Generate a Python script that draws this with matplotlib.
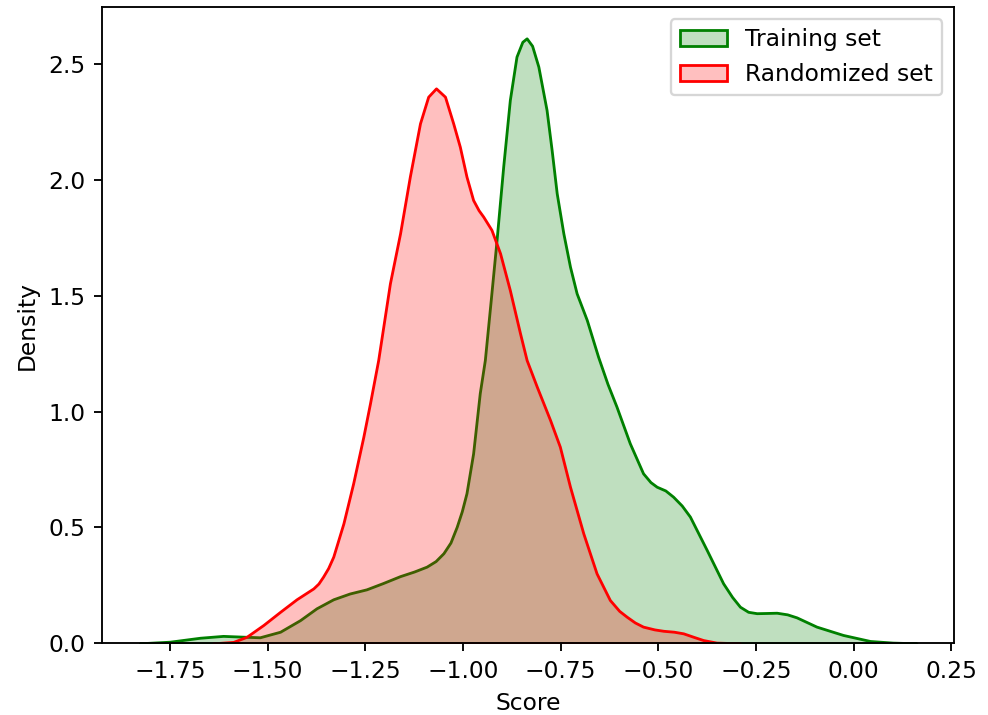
import numpy as np
import matplotlib
matplotlib.use('Agg')
import matplotlib.pyplot as plt
from matplotlib.patches import Patch

# densidad (score, densidad)
train_x = [-1.827, -1.75, -1.673, -1.614, -1.554, -1.52, -1.468, -1.417, -1.375, -1.332,
           -1.29, -1.247, -1.205, -1.161, -1.125, -1.093, -1.07, -1.05, -1.032, -1.016,
           -1.003, -0.991, -0.974, -0.957, -0.944, -0.929, -0.914, -0.897, -0.880, -0.863,
           -0.848, -0.837, -0.823, -0.807, -0.786, -0.773, -0.760, -0.743, -0.726, -0.709,
           -0.683, -0.654, -0.63, -0.607, -0.573, -0.539, -0.52, -0.504, -0.482, -0.462,
           -0.44, -0.419, -0.376, -0.334, -0.311, -0.291, -0.27, -0.248, -0.22, -0.197,
           -0.17, -0.146, -0.095, -0.027, 0.042, 0.10, 0.161]
train_y = [0.0, 0.007, 0.024, 0.032, 0.028, 0.026, 0.05, 0.10, 0.151, 0.19,
           0.215, 0.233, 0.26, 0.29, 0.31, 0.331, 0.355, 0.389, 0.435, 0.503,
           0.57, 0.648, 0.82, 1.08, 1.223, 1.48, 1.741, 2.058, 2.346, 2.533,
           2.597, 2.612, 2.58, 2.49, 2.303, 2.13, 1.943, 1.77, 1.626, 1.511,
           1.396, 1.237, 1.12, 1.022, 0.864, 0.734, 0.696, 0.676, 0.66, 0.633,
           0.595, 0.547, 0.403, 0.259, 0.2, 0.158, 0.136, 0.130, 0.131, 0.132,
           0.125, 0.112, 0.072, 0.036, 0.010, 0.003, 0.0]

rand_x = [-1.639, -1.588, -1.554, -1.511, -1.468, -1.426, -1.383, -1.37, -1.358, -1.345,
          -1.332, -1.306, -1.281, -1.255, -1.238, -1.217, -1.187, -1.161, -1.136, -1.11,
          -1.089, -1.069, -1.046, -1.025, -1.008, -0.991, -0.974, -0.96, -0.948, -0.927,
          -0.905, -0.880, -0.854, -0.837, -0.811, -0.777, -0.752, -0.726, -0.692, -0.658,
          -0.624, -0.60, -0.581, -0.56, -0.539, -0.51, -0.487, -0.46, -0.436, -0.41,
          -0.385, -0.351, -0.291]
rand_y = [0.0, 0.006, 0.028, 0.079, 0.136, 0.19, 0.237, 0.258, 0.288, 0.325,
          0.374, 0.518, 0.691, 0.892, 1.036, 1.223, 1.554, 1.770, 2.015, 2.245,
          2.36, 2.396, 2.36, 2.245, 2.144, 2.015, 1.914, 1.87, 1.842, 1.785,
          1.684, 1.525, 1.339, 1.223, 1.108, 0.964, 0.849, 0.676, 0.475, 0.302,
          0.187, 0.14, 0.115, 0.09, 0.072, 0.06, 0.054, 0.05, 0.043, 0.028,
          0.014, 0.003, 0.0]

series = [('Training set', train_x, train_y, 'green'),
          ('Randomized set', rand_x, rand_y, 'red')]

fig = plt.figure(figsize=(988/168, 715/168), dpi=168)
ax = fig.add_axes([102/988, 1-643.3/715, (954-102)/988, (643.3-7.3)/715])

handles = []
for nombre, x, y, c in series:
    fc = matplotlib.colors.to_rgba(c, 0.25)
    ax.fill_between(x, 0, y, facecolor=fc, edgecolor=c, linewidth=1.2, joinstyle='round')
    handles.append(Patch(facecolor=fc, edgecolor=c, linewidth=1.2, label=nombre))

ax.set_xlim(-1.924, 0.257)
ax.set_ylim(0, 2.746)
ax.set_xticks(np.arange(-1.75, 0.26, 0.25))
ax.set_yticks([0.0, 0.5, 1.0, 1.5, 2.0, 2.5])
ax.set_xlabel('Score')
ax.set_ylabel('Density')
ax.legend(handles=handles, loc='upper right')

plt.savefig('out.png', dpi=168)
